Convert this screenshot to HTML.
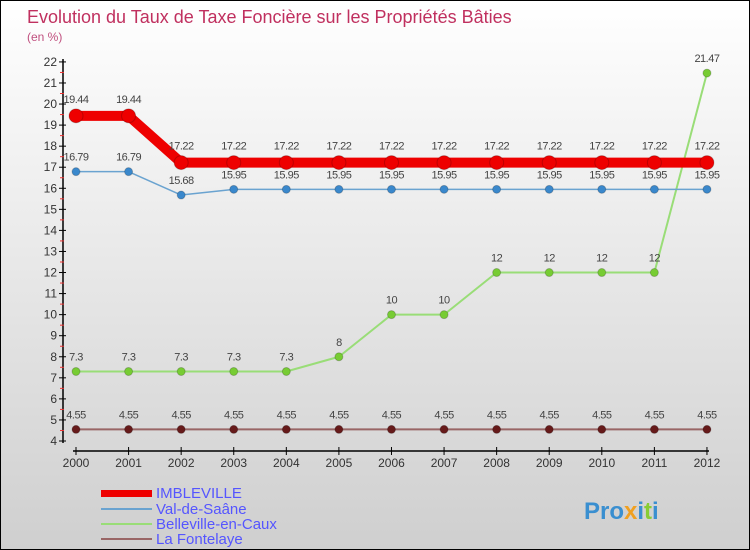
<!DOCTYPE html>
<html><head><meta charset="utf-8"><style>
body{margin:0}
#c{width:748px;height:548px;border:1px solid #000;position:relative;overflow:hidden;background:linear-gradient(#ffffff,#cfcfcf);font-family:"Liberation Sans",sans-serif}
</style></head><body>
<div id="c">
<svg id="s" width="748" height="548" style="position:absolute;left:0;top:0">
<text x="26" y="22" font-size="18" fill="#c0305f">Evolution du Taux de Taxe Foncière sur les Propriétés Bâties</text>
<text x="26" y="40" font-size="12" fill="#c0507f">(en %)</text>
<g id="axes"></g><g id="series"></g>
<g>
<rect x="100" y="489" width="51" height="7" fill="#e00"/>
<text x="155" y="497" font-size="15" fill="#5555ff">IMBLEVILLE</text>
<rect x="100" y="507" width="51" height="2" fill="#6aa3d0"/>
<text x="155" y="513" font-size="15" fill="#5555ff">Val-de-Saâne</text>
<rect x="100" y="522" width="51" height="2" fill="#99dd77"/>
<text x="155" y="528" font-size="15" fill="#5555ff">Belleville-en-Caux</text>
<rect x="100" y="537" width="51" height="2" fill="#996666"/>
<text x="155" y="543" font-size="15" fill="#5555ff">La Fontelaye</text>
</g>
<text x="583" y="518" font-size="24" font-weight="bold" fill="#3a8fd0">Pro<tspan fill="#f0a020">x</tspan>i<tspan fill="#88cc33">t</tspan>i</text>
</svg></div>
<script>
const years=[2000,2001,2002,2003,2004,2005,2006,2007,2008,2009,2010,2011,2012];
const imbleville=[19.44,19.44,17.22,17.22,17.22,17.22,17.22,17.22,17.22,17.22,17.22,17.22,17.22];
const valDeSaane=[16.79,16.79,15.68,15.95,15.95,15.95,15.95,15.95,15.95,15.95,15.95,15.95,15.95];
const belleville=[7.3,7.3,7.3,7.3,7.3,8,10,10,12,12,12,12,21.47];
const fontelaye=[4.55,4.55,4.55,4.55,4.55,4.55,4.55,4.55,4.55,4.55,4.55,4.55,4.55];
const yTicks=[4,5,6,7,8,9,10,11,12,13,14,15,16,17,18,19,20,21,22];
const NS="http://www.w3.org/2000/svg";
const X=i=>75+i*52.58, Y=v=>440-(v-4)*21.06;
function mk(t,a,p){const e=document.createElementNS(NS,t);for(const k in a)e.setAttribute(k,a[k]);p.appendChild(e);return e;}
const ax=document.getElementById('axes'), sg=document.getElementById('series');
let l=mk('line',{x1:62,y1:58,x2:62,y2:442,stroke:'#000','stroke-width':1.5},ax);


l=mk('line',{x1:72,y1:450,x2:708,y2:450,stroke:'#000','stroke-width':1.5},ax);


yTicks.forEach(v=>{
  mk('line',{x1:58,y1:Y(v),x2:65,y2:Y(v),stroke:'#000'},ax);
  if(v<22) mk('line',{x1:59,y1:Y(v+0.5),x2:63,y2:Y(v+0.5),stroke:'#e33'},ax);
  const t=mk('text',{x:56,y:Y(v)+4,'text-anchor':'end','font-size':12,fill:'#333'},ax);t.textContent=v;
  
  
});
years.forEach((y,i)=>{
  mk('line',{x1:X(i),y1:446,x2:X(i),y2:454,stroke:'#000'},ax);
  const t=mk('text',{x:X(i),y:466,'text-anchor':'middle','font-size':12,fill:'#333'},ax);t.textContent=y;
  
  
});
function series(d,name,col,w,r,dot,lblDy){
  const g=mk('g',{},sg);
  
  
  mk('polyline',{points:d.map((v,i)=>X(i)+','+Y(v)).join(' '),fill:'none',stroke:col,'stroke-width':w,'stroke-linejoin':'round'},g);
  d.forEach((v,i)=>{
    const c=mk('circle',{cx:X(i),cy:Y(v),r:r,fill:dot,stroke:'#0003'},g);
    
    
    const t=mk('text',{x:X(i),y:Y(v)+lblDy,'text-anchor':'middle','font-size':11,fill:'#444','letter-spacing':'-0.5'},g);t.textContent=v;
    
    
  });
}
series(fontelaye,'la-fontelaye','#996666',2,4,'#661a1a',-11);
series(belleville,'belleville-en-caux','#99dd77',2,4,'#77cc33',-11);
series(valDeSaane,'val-de-saane','#6aa3d0',1.5,4,'#3a88cc',-11);
series(imbleville,'imbleville','#e00',10,7,'#e00',-13);
</script></body></html>
